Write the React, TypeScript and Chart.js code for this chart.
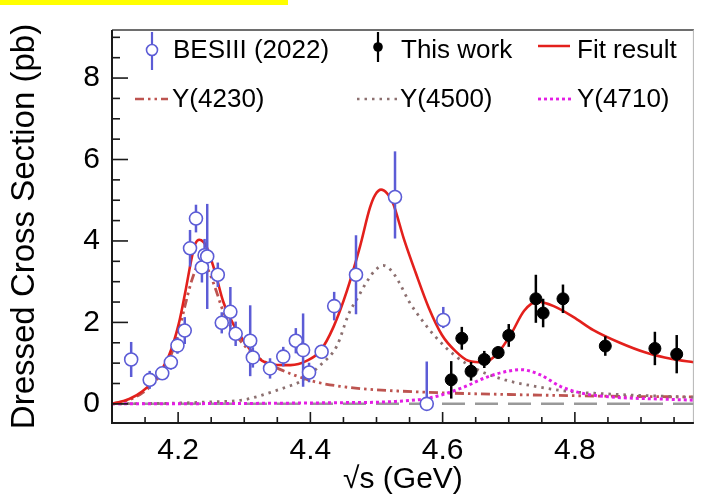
import React, { useEffect, useRef } from "react";
import { Chart, registerables } from "chart.js";

Chart.register(...registerables);

// ---- Measurements: BESIII (2022), open circles ----
const besX = [4.129, 4.157, 4.176, 4.189, 4.199, 4.21, 4.218, 4.227, 4.236, 4.24, 4.244, 4.26, 4.266, 4.279, 4.287, 4.309, 4.313, 4.339, 4.359, 4.378, 4.389, 4.398, 4.417, 4.436, 4.469, 4.528, 4.576, 4.601];
const besY = [1.09, 0.59, 0.75, 1.02, 1.43, 1.8, 3.82, 4.55, 3.35, 3.65, 3.62, 3.17, 1.99, 2.26, 1.72, 1.55, 1.14, 0.87, 1.16, 1.55, 1.32, 0.77, 1.28, 2.4, 3.17, 5.08, 0.0, 2.06];
const besErrLo = [0.43, 0.22, 0.13, 0.18, 0.2, 0.33, 0.45, 0.34, 0.37, 0.4, 1.29, 0.3, 0.26, 0.61, 0.3, 0.87, 0.25, 0.25, 0.24, 0.31, 0.9, 0.24, 0.17, 0.35, 0.97, 1.02, 0.0, 0.2];
const besErrHi = [0.43, 0.22, 0.13, 0.18, 0.2, 0.33, 0.45, 0.34, 0.37, 0.4, 1.29, 0.3, 0.26, 0.61, 0.3, 0.87, 0.25, 0.25, 0.24, 0.31, 0.9, 0.24, 0.17, 0.35, 0.97, 1.12, 1.04, 0.32];

// ---- Measurements: this work, filled circles ----
const workX = [4.613, 4.629, 4.643, 4.663, 4.684, 4.7, 4.741, 4.752, 4.782, 4.846, 4.921, 4.954];
const workY = [0.59, 1.61, 0.8, 1.09, 1.26, 1.68, 2.58, 2.23, 2.58, 1.42, 1.36, 1.22];
const workErr = [0.46, 0.28, 0.23, 0.21, 0.15, 0.28, 0.59, 0.35, 0.35, 0.24, 0.41, 0.47];

// ---- Fit result (total) ----
const fitX = [4.1, 4.126, 4.146, 4.166, 4.186, 4.201, 4.211, 4.221, 4.226, 4.232, 4.238, 4.243, 4.256, 4.268, 4.283, 4.301, 4.32, 4.345, 4.37, 4.395, 4.415, 4.435, 4.455, 4.475, 4.49, 4.498, 4.507, 4.516, 4.524, 4.542, 4.559, 4.579, 4.599, 4.619, 4.639, 4.664, 4.684, 4.704, 4.723, 4.743, 4.768, 4.798, 4.828, 4.868, 4.907, 4.947, 4.98];
const fitY = [0.0, 0.12, 0.31, 0.63, 1.18, 1.97, 2.76, 3.62, 3.93, 4.03, 3.98, 3.86, 3.23, 2.52, 1.97, 1.5, 1.14, 0.96, 0.95, 1.06, 1.3, 1.89, 2.76, 3.86, 4.81, 5.13, 5.26, 5.17, 4.97, 4.02, 3.23, 2.36, 1.69, 1.3, 1.06, 1.02, 1.26, 1.73, 2.28, 2.51, 2.4, 2.13, 1.81, 1.5, 1.26, 1.1, 1.02];

// ---- Resonance components ----
const y4230X = [4.1, 4.126, 4.146, 4.166, 4.186, 4.201, 4.211, 4.221, 4.229, 4.236, 4.245, 4.256, 4.268, 4.283, 4.301, 4.32, 4.335, 4.355, 4.375, 4.405, 4.445, 4.495, 4.54, 4.6, 4.7, 4.8, 4.9, 4.98];
const y4230Y = [0.0, 0.1, 0.27, 0.56, 1.07, 1.78, 2.45, 3.05, 3.38, 3.45, 3.3, 2.85, 2.28, 1.8, 1.42, 1.15, 1.0, 0.84, 0.71, 0.55, 0.43, 0.35, 0.31, 0.27, 0.23, 0.2, 0.18, 0.17];

const y4500X = [4.1, 4.2, 4.25, 4.296, 4.32, 4.345, 4.365, 4.385, 4.415, 4.44, 4.458, 4.472, 4.485, 4.498, 4.51, 4.522, 4.534, 4.549, 4.569, 4.589, 4.619, 4.654, 4.694, 4.74, 4.788, 4.854, 4.98];
const y4500Y = [0.0, 0.02, 0.05, 0.09, 0.18, 0.31, 0.42, 0.55, 0.95, 1.42, 2.21, 2.62, 2.99, 3.28, 3.4, 3.28, 2.99, 2.52, 2.05, 1.65, 1.18, 0.83, 0.59, 0.43, 0.31, 0.24, 0.16];

const y4710X = [4.1, 4.3, 4.45, 4.5, 4.529, 4.579, 4.629, 4.669, 4.698, 4.718, 4.748, 4.778, 4.808, 4.853, 4.927, 4.98];
const y4710Y = [0.0, 0.01, 0.03, 0.04, 0.06, 0.14, 0.39, 0.67, 0.8, 0.84, 0.71, 0.43, 0.27, 0.17, 0.12, 0.09];

// Zero reference line
const zeroX = [4.1, 4.98];
const zeroY = [0, 0];

// ---- Axes ----
const xMin = 4.1;
const xMax = 4.98;
const yMin = -0.47;
const yMax = 9.18;
const xMajor = [4.2, 4.4, 4.6, 4.8];
const xTickLabels = ["4.2", "4.4", "4.6", "4.8"];
const yMajor = [0, 2, 4, 6, 8];
const yTickLabels = ["0", "2", "4", "6", "8"];
const xMinor = [4.15, 4.25, 4.3, 4.35, 4.45, 4.5, 4.55, 4.65, 4.7, 4.75, 4.85, 4.9, 4.95];
const yMinor = [0.5, 1, 1.5, 2.5, 3, 3.5, 4.5, 5, 5.5, 6.5, 7, 7.5, 8.5, 9];

const xTitle = "√s (GeV)";
const yTitle = "Dressed Cross Section (pb)";

const legendNames = ["BESIII (2022)", "This work", "Fit result", "Y(4230)", "Y(4500)", "Y(4710)"];

const FONT = "'Liberation Sans', Arial, Helvetica, sans-serif";
const BLUE = "#5c5cd6";
const RED = "#e3201c";
const C4230 = "#bd5450";
const C4500 = "#8c7070";
const C4710 = "#e41ee4";
const DASH4230 = [9, 4, 2.5, 4, 2.5, 4];
const DASH4500 = [2.5, 5];
const DASH4710 = [3, 3];

const pts = (xs: number[], ys: number[]) => xs.map((x, i) => ({ x, y: ys[i] }));

// Error bars for the two measurement sets, drawn just before their markers.
const errorBarPlugin = {
  id: "errorBars",
  beforeDatasetDraw(chart: any, args: any) {
    const ds = chart.data.datasets[args.index];
    if (!ds.errLo) return;
    const { ctx, chartArea } = chart;
    const xs = chart.scales.x;
    const ys = chart.scales.y;
    ctx.save();
    ctx.beginPath();
    ctx.rect(chartArea.left, chartArea.top, chartArea.right - chartArea.left, chartArea.bottom - chartArea.top);
    ctx.clip();
    ctx.strokeStyle = ds.errColor;
    ctx.lineWidth = 2.5;
    ds.data.forEach((p: any, i: number) => {
      const px = xs.getPixelForValue(p.x);
      ctx.beginPath();
      ctx.moveTo(px, ys.getPixelForValue(p.y - ds.errLo[i]));
      ctx.lineTo(px, ys.getPixelForValue(p.y + ds.errHi[i]));
      ctx.stroke();
    });
    ctx.restore();
  },
};

// Frame, inward tick marks and legend.
const decorPlugin = {
  id: "decor",
  afterDraw(chart: any) {
    const { ctx, chartArea } = chart;
    const xs = chart.scales.x;
    const ys = chart.scales.y;
    const { left, right, top, bottom } = chartArea;
    ctx.save();

    // frame top / right
    ctx.strokeStyle = "#6e6e6e";
    ctx.lineWidth = 2;
    ctx.beginPath();
    ctx.moveTo(left, top);
    ctx.lineTo(right, top);
    ctx.stroke();
    ctx.strokeStyle = "#b5b5b5";
    ctx.lineWidth = 1;
    ctx.beginPath();
    ctx.moveTo(right - 0.5, top);
    ctx.lineTo(right - 0.5, bottom);
    ctx.stroke();

    // axis lines
    ctx.strokeStyle = "#1a1a1a";
    ctx.lineWidth = 2;
    ctx.beginPath();
    ctx.moveTo(left, top);
    ctx.lineTo(left, bottom);
    ctx.lineTo(right, bottom);
    ctx.stroke();

    // inward ticks
    ctx.lineWidth = 1.6;
    const vt = (v: number, len: number) => {
      const px = xs.getPixelForValue(v);
      ctx.beginPath();
      ctx.moveTo(px, bottom);
      ctx.lineTo(px, bottom - len);
      ctx.stroke();
    };
    const ht = (v: number, len: number) => {
      const py = ys.getPixelForValue(v);
      ctx.beginPath();
      ctx.moveTo(left, py);
      ctx.lineTo(left + len, py);
      ctx.stroke();
    };
    xMajor.forEach((v) => vt(v, 11));
    xMinor.forEach((v) => vt(v, 6));
    yMajor.forEach((v) => ht(v, 16));
    yMinor.forEach((v) => ht(v, 8));

    // legend
    ctx.font = `26px ${FONT}`;
    ctx.fillStyle = "#000";
    ctx.textBaseline = "alphabetic";
    ctx.textAlign = "left";
    const r1 = 58;
    const r2 = 107;

    // BESIII marker
    ctx.strokeStyle = BLUE;
    ctx.lineWidth = 2.2;
    ctx.beginPath();
    ctx.moveTo(152, 32);
    ctx.lineTo(152, 70);
    ctx.stroke();
    ctx.beginPath();
    ctx.arc(152, 50, 5.5, 0, Math.PI * 2);
    ctx.fillStyle = "#fff";
    ctx.fill();
    ctx.lineWidth = 1.6;
    ctx.stroke();
    ctx.fillStyle = "#000";
    ctx.fillText(legendNames[0], 173, r1);

    // This work marker
    ctx.strokeStyle = "#000";
    ctx.lineWidth = 2.2;
    ctx.beginPath();
    ctx.moveTo(378, 32);
    ctx.lineTo(378, 62);
    ctx.stroke();
    ctx.beginPath();
    ctx.arc(378, 47, 4.8, 0, Math.PI * 2);
    ctx.fill();
    ctx.fillText(legendNames[1], 401, r1);

    // Fit result
    ctx.strokeStyle = RED;
    ctx.lineWidth = 2.5;
    ctx.beginPath();
    ctx.moveTo(538, 46);
    ctx.lineTo(570, 46);
    ctx.stroke();
    ctx.fillText(legendNames[2], 577, r1);

    // components
    const seg = (x0: number, x1: number, color: string, dash: number[], w: number) => {
      ctx.save();
      ctx.strokeStyle = color;
      ctx.lineWidth = w;
      ctx.setLineDash(dash);
      ctx.beginPath();
      ctx.moveTo(x0, 99);
      ctx.lineTo(x1, 99);
      ctx.stroke();
      ctx.restore();
    };
    seg(135, 168, C4230, DASH4230, 2.5);
    ctx.fillText(legendNames[3], 172, r2);
    seg(357, 397, C4500, DASH4500, 2.5);
    ctx.fillText(legendNames[4], 400, r2);
    seg(538, 572, C4710, DASH4710, 2.8);
    ctx.fillText(legendNames[5], 577, r2);

    ctx.restore();
  },
};

export default function App() {
  const ref = useRef<HTMLCanvasElement | null>(null);

  useEffect(() => {
    if (!ref.current) return;
    const lineDs = (label: string, xs: number[], ys: number[], color: string, dash: number[], width: number) => ({
      type: "line" as const,
      label,
      data: pts(xs, ys),
      borderColor: color,
      borderWidth: width,
      borderDash: dash,
      pointRadius: 0,
      fill: false,
      cubicInterpolationMode: "monotone" as const,
    });

    const chart = new Chart(ref.current, {
      type: "scatter",
      data: {
        datasets: [
          {
            type: "scatter",
            label: legendNames[1],
            data: pts(workX, workY),
            pointStyle: "circle",
            pointRadius: 6,
            backgroundColor: "#000",
            borderColor: "#000",
            borderWidth: 1,
            errLo: workErr,
            errHi: workErr,
            errColor: "#000",
          } as any,
          {
            type: "scatter",
            label: legendNames[0],
            data: pts(besX, besY),
            pointStyle: "circle",
            pointRadius: 6.5,
            backgroundColor: "#fff",
            borderColor: BLUE,
            borderWidth: 1.6,
            errLo: besErrLo,
            errHi: besErrHi,
            errColor: BLUE,
          } as any,
          lineDs(legendNames[2], fitX, fitY, RED, [], 2.6),
          lineDs(legendNames[5], y4710X, y4710Y, C4710, DASH4710, 3),
          lineDs(legendNames[4], y4500X, y4500Y, C4500, DASH4500, 2.8),
          lineDs(legendNames[3], y4230X, y4230Y, C4230, DASH4230, 2.8),
          {
            type: "line",
            label: "zero",
            data: pts(zeroX, zeroY),
            borderColor: "#999",
            borderWidth: 2.5,
            borderDash: [23, 10],
            pointRadius: 0,
            fill: false,
          },
        ],
      },
      options: {
        responsive: true,
        maintainAspectRatio: false,
        animation: false,
        events: [],
        layout: { padding: { top: 15, right: 2, left: 0, bottom: 0 } },
        plugins: {
          legend: { display: false },
          tooltip: { enabled: false },
          title: { display: false },
        },
        scales: {
          x: {
            type: "linear",
            min: xMin,
            max: xMax,
            bounds: "data",
            grid: { display: false, drawTicks: false },
            border: { display: false },
            afterBuildTicks: (s: any) => {
              s.ticks = xMajor.map((value) => ({ value }));
            },
            ticks: {
              autoSkip: false,
              maxRotation: 0,
              padding: 10,
              color: "#000",
              font: { family: FONT, size: 30 },
              callback: (_v: any, i: number) => xTickLabels[i],
            },
            title: {
              display: true,
              text: xTitle,
              color: "#000",
              font: { family: FONT, size: 30 },
              padding: { top: 0, bottom: 2 },
            },
            afterFit: (s: any) => {
              s.height = 77;
            },
          },
          y: {
            type: "linear",
            min: yMin,
            max: yMax,
            bounds: "data",
            grid: { display: false, drawTicks: false },
            border: { display: false },
            afterBuildTicks: (s: any) => {
              s.ticks = yMajor.map((value) => ({ value }));
            },
            ticks: {
              autoSkip: false,
              padding: 12,
              color: "#000",
              font: { family: FONT, size: 30 },
              callback: (_v: any, i: number) => yTickLabels[i],
            },
            title: {
              display: true,
              text: yTitle,
              color: "#000",
              font: { family: FONT, size: 33 },
              padding: { top: 5, bottom: 0 },
            },
            afterFit: (s: any) => {
              s.width = 112;
            },
          },
        },
      },
      plugins: [errorBarPlugin, decorPlugin],
    });
    return () => chart.destroy();
  }, []);

  return (
    <div style={{ position: "fixed", left: 0, top: 0, width: 702, height: 500, background: "#fff" }}>
      <canvas ref={ref} />
      <div style={{ position: "absolute", left: 0, top: 0, width: 288, height: 5, background: "#ffff00" }} />
    </div>
  );
}
